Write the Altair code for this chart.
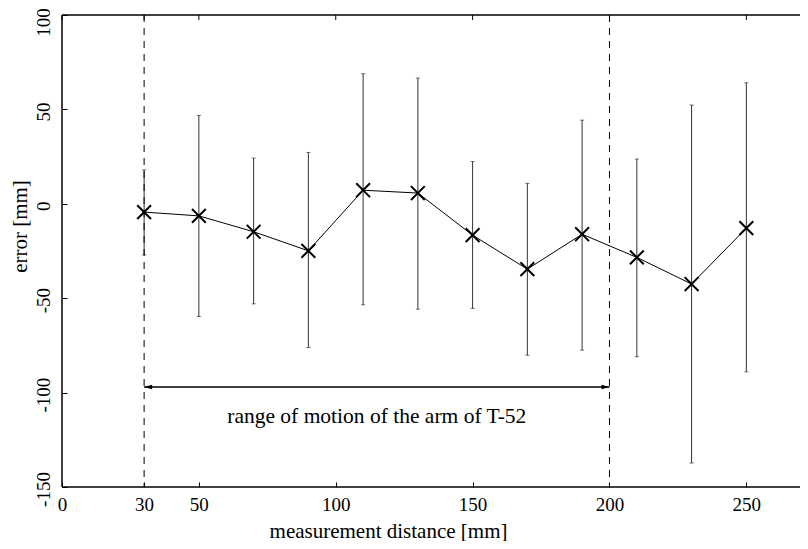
import altair as alt
import pandas as pd

dist = [30, 50, 70, 90, 110, 130, 150, 170, 190, 210, 230, 250]
err = [-4.4, -6.4, -14.8, -24.9, 7.2, 5.7, -16.6, -34.6, -16.1, -28.4, -42.5, -12.9]
upper = [18, 46.8, 24.2, 27.2, 68.9, 66.6, 22.4, 10.8, 44.3, 23.7, 52.3, 64.1]
lower = [-27, -59.7, -53, -76.1, -53.5, -55.8, -55.4, -80.2, -77.5, -81, -137.3, -89]

range_bounds = [30, 200]
arrow_y = -97
note_text = "range of motion of the arm of T-52"
note_x = 115
note_y = -116

x_ticks = [0, 30, 50, 100, 150, 200, 250]
y_ticks = [-150, -100, -50, 0, 50, 100]
x_domain = [0, 269.6]
y_domain = [-150, 100]

FONT = "Liberation Serif"
FS = 19
TFS = 21
NFS = 21.5

df = pd.DataFrame({"dist": dist, "err": err, "upper": upper, "lower": lower})
bounds = pd.DataFrame({"b": range_bounds})
arrow = pd.DataFrame({"x1": [range_bounds[0]], "x2": [range_bounds[1]], "y": [arrow_y]})
note = pd.DataFrame({"x": [note_x], "y": [note_y], "t": [note_text]})

xs = alt.Scale(domain=x_domain, nice=False, zero=False)
ys = alt.Scale(domain=y_domain, nice=False, zero=False)

x_axis = alt.Axis(values=x_ticks, offset=-5, tickSize=5, domain=False, grid=False,
                  labelPadding=8, labelExpr="toString(datum.value)",
                  title="measurement distance [mm]",
                  titleX=326, titleY=55, titleAlign="center", titleBaseline="alphabetic",
                  labelFont=FONT, labelFontSize=FS, titleFont=FONT, titleFontSize=TFS,
                  titleFontWeight="normal", labelColor="black", titleColor="black",
                  tickColor="black", labelFlush=False)
y_axis = alt.Axis(values=y_ticks, offset=-5, tickSize=5, domain=False, grid=False,
                  labelAngle=270, labelAlign="center", labelBaseline="bottom",
                  labelPadding=9, labelExpr="toString(datum.value)",
                  labelOffset=alt.condition("datum.value == 100", alt.value(7),
                                            alt.value(2)),
                  title="error [mm]", titleAngle=270,
                  titleX=-41, titleY=211, titleAlign="center", titleBaseline="alphabetic",
                  labelFont=FONT, labelFontSize=FS, titleFont=FONT, titleFontSize=TFS,
                  titleFontWeight="normal", labelColor="black", titleColor="black",
                  tickColor="black", labelFlush=False)

base = alt.Chart(df)

bars = base.mark_rule(color="#333", strokeWidth=1).encode(
    x=alt.X("dist:Q", scale=xs, axis=x_axis),
    y=alt.Y("lower:Q", scale=ys, axis=y_axis),
    y2="upper:Q",
)
caps_up = base.mark_tick(color="#333", orient="horizontal", size=4, thickness=1).encode(
    x=alt.X("dist:Q", scale=xs), y=alt.Y("upper:Q", scale=ys))
caps_lo = base.mark_tick(color="#333", orient="horizontal", size=4, thickness=1).encode(
    x=alt.X("dist:Q", scale=xs), y=alt.Y("lower:Q", scale=ys))
line = base.mark_line(color="black", strokeWidth=1).encode(
    x=alt.X("dist:Q", scale=xs), y=alt.Y("err:Q", scale=ys))
pts = base.mark_point(shape="M-1,-1L1,1M1,-1L-1,1", filled=False, color="black",
                      strokeWidth=2, size=190, opacity=1).encode(
    x=alt.X("dist:Q", scale=xs), y=alt.Y("err:Q", scale=ys))

dashed = alt.Chart(bounds).mark_rule(color="black", strokeWidth=1, strokeDash=[7, 6]).encode(
    x=alt.X("b:Q", scale=xs))

arrow_line = alt.Chart(arrow).mark_rule(color="black", strokeWidth=1.5).encode(
    x=alt.X("x1:Q", scale=xs), x2="x2:Q", y=alt.Y("y:Q", scale=ys))
head_l = alt.Chart(arrow).mark_point(shape="M0,0L2,-0.55L2,0.55Z", filled=True, color="black",
                                     size=64, opacity=1).encode(
    x=alt.X("x1:Q", scale=xs), y=alt.Y("y:Q", scale=ys))
head_r = alt.Chart(arrow).mark_point(shape="M0,0L-2,-0.55L-2,0.55Z", filled=True, color="black",
                                     size=64, opacity=1).encode(
    x=alt.X("x2:Q", scale=xs), y=alt.Y("y:Q", scale=ys))

txt = alt.Chart(note).mark_text(font=FONT, fontSize=NFS, color="black", align="center",
                                baseline="alphabetic").encode(
    x=alt.X("x:Q", scale=xs), y=alt.Y("y:Q", scale=ys), text="t:N")

frame_df = pd.DataFrame({"bottom": [y_domain[0]], "top": [y_domain[1]], "left": [x_domain[0]]})
frame_b = alt.Chart(frame_df).mark_rule(color="black", strokeWidth=1.5).encode(
    y=alt.Y("bottom:Q", scale=ys))
frame_t = alt.Chart(frame_df).mark_rule(color="black", strokeWidth=1.5).encode(
    y=alt.Y("top:Q", scale=ys))
frame_l = alt.Chart(frame_df).mark_rule(color="black", strokeWidth=1.5).encode(
    x=alt.X("left:Q", scale=xs))

top_ticks = alt.Chart(pd.DataFrame({"t": x_ticks})).mark_rule(color="black", strokeWidth=1).encode(
    x=alt.X("t:Q", scale=xs), y=alt.value(0), y2=alt.value(5))

chart = alt.layer(
    bars, caps_up, caps_lo, dashed, arrow_line, head_l, head_r, line, pts, txt,
    frame_b, frame_t, frame_l, top_ticks
).properties(
    width=738, height=472,
    autosize=alt.AutoSizeParams(type="none"),
    padding={"top": 7, "left": 54, "right": 0, "bottom": 54},
    background="white",
).configure_view(stroke=None)

chart.save("out.html", embed_options={"renderer": "svg", "actions": False})
